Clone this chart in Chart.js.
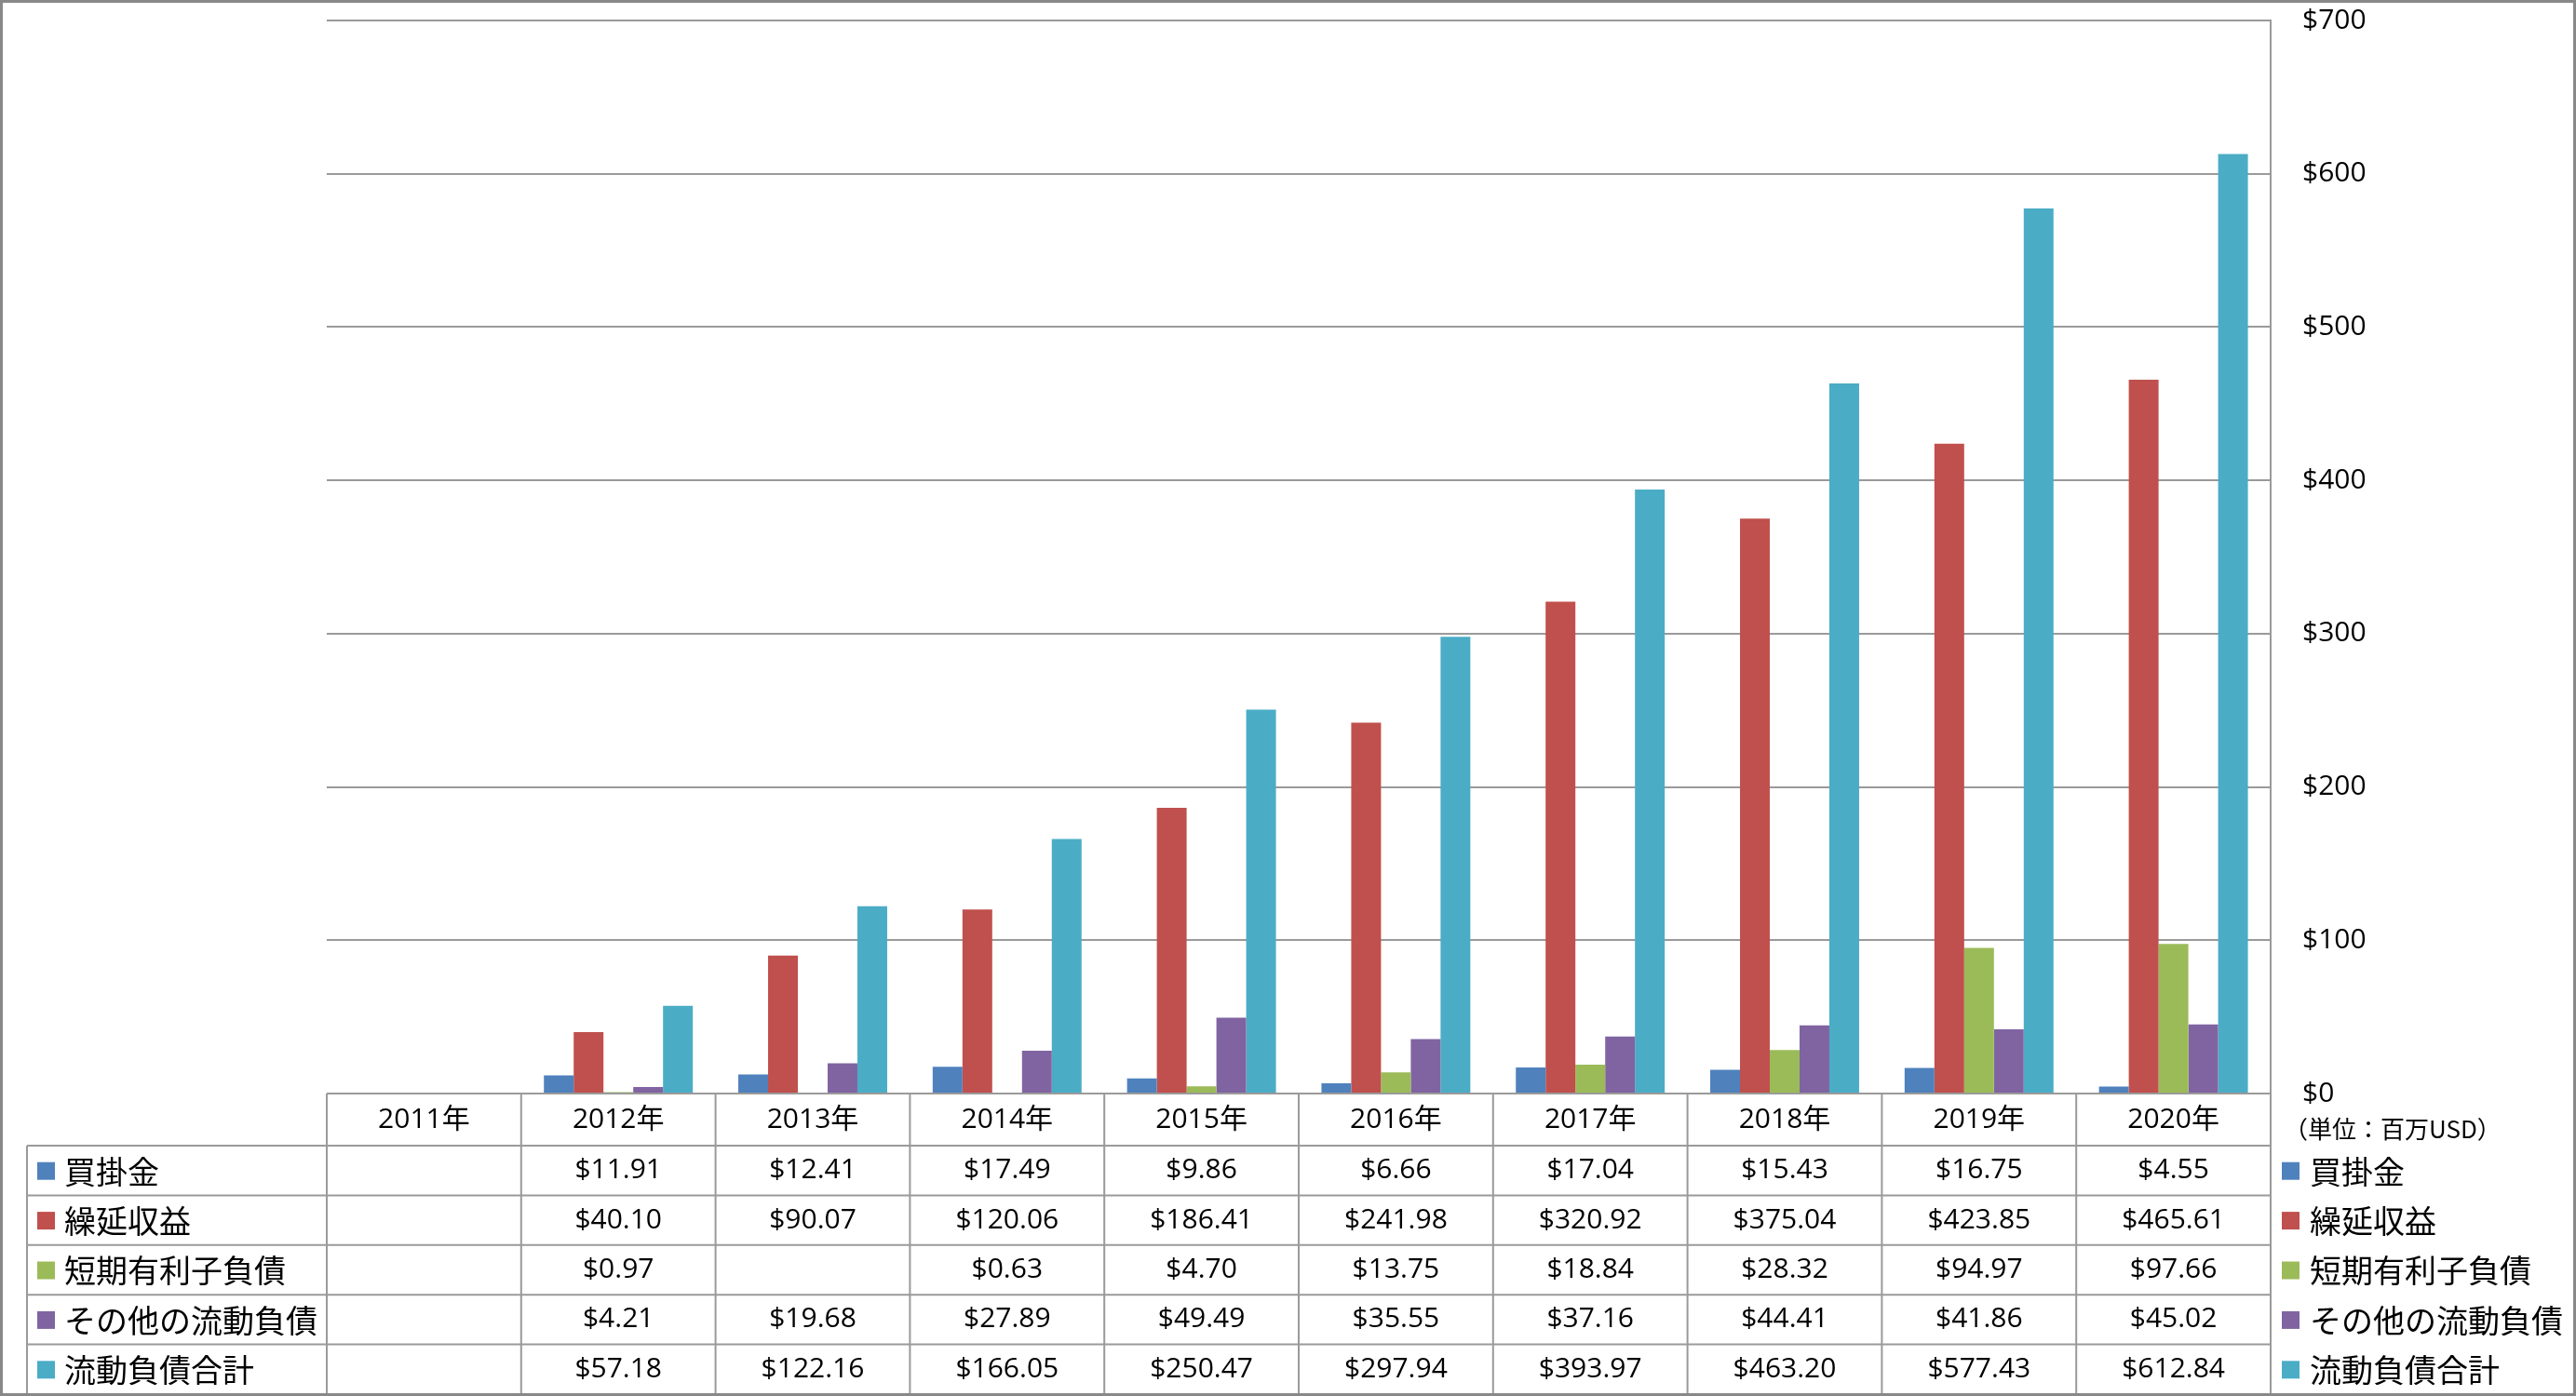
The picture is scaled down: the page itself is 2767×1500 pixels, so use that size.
<!DOCTYPE html>
<html lang="ja">
<head>
<meta charset="utf-8">
<script src="https://cdn.jsdelivr.net/npm/chart.js@4.4.1/dist/chart.umd.min.js"></script>
<style>
  html, body { margin: 0; padding: 0; background: #fff; }
  canvas { display: block; }
</style>
</head>
<body>
<canvas id="liabChart" width="2767" height="1500"></canvas>
<script>
// 年度
const years = ['2011年', '2012年', '2013年', '2014年', '2015年', '2016年', '2017年', '2018年', '2019年', '2020年'];

// 系列（百万USD）
const accountsPayable = [null, 11.91, 12.41, 17.49, 9.86, 6.66, 17.04, 15.43, 16.75, 4.55];
const deferredRevenue = [null, 40.10, 90.07, 120.06, 186.41, 241.98, 320.92, 375.04, 423.85, 465.61];
const shortTermDebt = [null, 0.97, null, 0.63, 4.70, 13.75, 18.84, 28.32, 94.97, 97.66];
const otherCurrent = [null, 4.21, 19.68, 27.89, 49.49, 35.55, 37.16, 44.41, 41.86, 45.02];
const totalCurrent = [null, 57.18, 122.16, 166.05, 250.47, 297.94, 393.97, 463.20, 577.43, 612.84];

const seriesNames = ['買掛金', '繰延収益', '短期有利子負債', 'その他の流動負債', '流動負債合計'];
const seriesColors = ['#4F81BD', '#C0504D', '#9BBB59', '#8064A2', '#4BACC6'];
const seriesValues = [accountsPayable, deferredRevenue, shortTermDebt, otherCurrent, totalCurrent];

// 軸
const yMin = 0;
const yMax = 700;
const yStep = 100;
const unitLabel = '（単位：百万USD）';

const latinFont = "'Open Sans', 'Noto Sans CJK JP', sans-serif";
const cjkFont = "'Noto Sans CJK JP', sans-serif";
const lineGray = '#9a9a9a';

function money(v) {
  return '$' + v.toFixed(2);
}

// データテーブルと凡例を描くプラグイン
const tablePlugin = {
  id: 'dataTable',
  afterDraw(chart) {
    const ctx = chart.ctx;
    const xs = chart.scales.x;
    const area = chart.chartArea;
    const top = area.bottom;
    const headH = 56;
    const rowH = 53.4;
    const legendLeft = 29;
    const headBottom = top + headH;
    const bottom = headBottom + rowH * seriesNames.length;
    const colW = xs.getPixelForValue(1) - xs.getPixelForValue(0);

    ctx.save();
    ctx.strokeStyle = lineGray;
    ctx.lineWidth = 2;

    // 横線
    ctx.beginPath();
    for (let r = 0; r <= seriesNames.length; r++) {
      const y = headBottom + r * rowH;
      ctx.moveTo(legendLeft, y);
      ctx.lineTo(area.right, y);
    }
    // 縦線
    ctx.moveTo(legendLeft, headBottom);
    ctx.lineTo(legendLeft, bottom);
    for (let i = 0; i <= years.length; i++) {
      const x = area.left + i * colW;
      ctx.moveTo(x, top);
      ctx.lineTo(x, bottom);
    }
    ctx.stroke();

    ctx.fillStyle = '#000';
    ctx.textBaseline = 'middle';

    // 年度見出し
    ctx.textAlign = 'center';
    ctx.font = '30px ' + latinFont;
    years.forEach((yr, i) => {
      ctx.fillText(yr, xs.getPixelForValue(i), top + headH / 2);
    });

    // 値
    seriesValues.forEach((vals, r) => {
      const cy = headBottom + r * rowH + rowH / 2;
      vals.forEach((v, i) => {
        if (v === null) return;
        ctx.fillText(money(v), xs.getPixelForValue(i), cy);
      });
    });

    // 左の凡例（表内）と右の凡例
    ctx.textAlign = 'left';
    ctx.font = '34px ' + cjkFont;
    seriesNames.forEach((name, r) => {
      const cy = headBottom + r * rowH + rowH / 2;
      ctx.fillStyle = seriesColors[r];
      ctx.fillRect(40, cy - 9, 19, 19);
      ctx.fillRect(area.right + 12, cy - 9, 19, 19);
      ctx.fillStyle = '#000';
      ctx.fillText(name, 69, cy + 1);
      ctx.fillText(name, area.right + 42, cy + 1);
    });

    // 単位
    ctx.font = '26px ' + cjkFont;
    ctx.fillText(unitLabel, area.right + 14, top + 38);

    // 外枠
    ctx.strokeStyle = '#888';
    ctx.lineWidth = 3;
    ctx.strokeRect(1.5, 1.5, chart.width - 3, chart.height - 3);
    ctx.restore();
  }
};

const ctx = document.getElementById('liabChart').getContext('2d');
const liabChart = new Chart(ctx, {
  type: 'bar',
  data: {
    labels: years,
    datasets: seriesNames.map((name, i) => ({
      label: name,
      data: seriesValues[i],
      backgroundColor: seriesColors[i],
      borderWidth: 0,
      categoryPercentage: 0.766,
      barPercentage: 1.0
    }))
  },
  options: {
    responsive: false,
    animation: false,
    devicePixelRatio: 1,
    layout: {
      padding: { left: 351, top: 22, right: 0, bottom: 325 }
    },
    plugins: {
      legend: { display: false },
      tooltip: { enabled: false }
    },
    scales: {
      x: {
        display: false
      },
      y: {
        position: 'right',
        min: yMin,
        max: yMax,
        afterFit(scale) {
          scale.width = 328;
          scale.paddingTop = 0;
          scale.paddingBottom = 0;
        },
        grid: {
          color: lineGray,
          lineWidth: 2,
          drawTicks: false
        },
        border: {
          display: true,
          color: lineGray,
          width: 2
        },
        ticks: {
          stepSize: yStep,
          padding: 34,
          color: '#000',
          font: { family: latinFont, size: 30 },
          callback: function(value) {
            return '$' + value;
          }
        }
      }
    }
  },
  plugins: [tablePlugin]
});
</script>
</body>
</html>
